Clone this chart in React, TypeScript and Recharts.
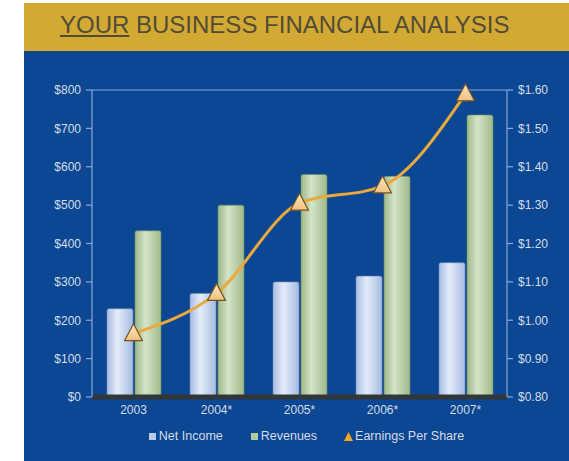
import React from 'react';
import { ComposedChart, Bar, Line, XAxis, YAxis, CartesianGrid, Legend } from 'recharts';

// Years on the x axis ("*" = projected)
const years = ['2003', '2004*', '2005*', '2006*', '2007*'];
// Net income, $ (left axis)
const netIncome = [230, 270, 300, 315, 350];
// Revenues, $ (left axis)
const revenues = [433, 500, 580, 575, 735];
// Earnings per share, $ (right axis)
const eps = [0.965, 1.07, 1.305, 1.35, 1.59];

const leftTicks = [0, 100, 200, 300, 400, 500, 600, 700, 800];
const rightTicks = [0.8, 0.9, 1.0, 1.1, 1.2, 1.3, 1.4, 1.5, 1.6];

const data = years.map((year, i) => ({
  year,
  netIncome: netIncome[i],
  revenues: revenues[i],
  eps: eps[i],
}));

const FONT = '"Liberation Sans", Arial, sans-serif';
const PANEL = '#0B4792';
const GRID = '#8DA6D8';
const TICK_TEXT = '#D6DCE8';
const COLORS = {
  netIncome: '#B7CAEC',
  revenues: '#B3CC9F',
  eps: '#E9A93C',
};

const Triangle = (props: any) => {
  const { cx, cy } = props;
  if (cx == null || cy == null) return null;
  return (
    <polygon
      points={`${cx},${cy - 10} ${cx - 9},${cy + 7} ${cx + 9},${cy + 7}`}
      fill="url(#triFill)"
      stroke="#7A5222"
      strokeWidth={1.2}
      strokeLinejoin="round"
    />
  );
};

const LegendContent = () => {
  const items = [
    { label: 'Net Income', color: COLORS.netIncome, kind: 'square' },
    { label: 'Revenues', color: COLORS.revenues, kind: 'square' },
    { label: 'Earnings Per Share', color: '#F2A81C', kind: 'triangle' },
  ];
  return (
    <div
      style={{
        display: 'flex',
        justifyContent: 'center',
        gap: 27,
        paddingLeft: 18,
        fontFamily: FONT,
        fontSize: 12.5,
        color: TICK_TEXT,
      }}
    >
      {items.map((it) => (
        <span key={it.label} style={{ display: 'inline-flex', alignItems: 'center' }}>
          <svg width={9} height={9} style={{ marginRight: 2 }}>
            {it.kind === 'square' ? (
              <rect x={1} y={1} width={7} height={7} fill={it.color} />
            ) : (
              <polygon points="4.5,0 9,9 0,9" fill={it.color} />
            )}
          </svg>
          {it.label}
        </span>
      ))}
    </div>
  );
};

export default function App() {
  return (
    <div style={{ position: 'absolute', left: 0, top: 0, width: 569, height: 461, background: '#fff', fontFamily: FONT }}>
      <div
        style={{
          position: 'absolute',
          left: 24,
          top: 3,
          width: 545,
          height: 48,
          background: '#D2A933',
        }}
      >
        <div style={{ position: 'absolute', left: 36, top: 8, fontSize: 24, color: '#524C36', whiteSpace: 'nowrap' }}>
          <span style={{ textDecoration: 'underline' }}>YOUR</span> BUSINESS FINANCIAL ANALYSIS
        </div>
      </div>
      <div style={{ position: 'absolute', left: 24, top: 51, width: 545, height: 410, background: PANEL }}>
        <ComposedChart
          width={545}
          height={410}
          data={data}
          margin={{ top: 39, right: 7, left: 8, bottom: 18 }}
          barCategoryGap={15}
          barGap={2}
        >
          <defs>
            <linearGradient id="blueBar" x1="0" y1="0" x2="1" y2="0">
              <stop offset="0%" stopColor="#A9BEE6" />
              <stop offset="40%" stopColor="#E3ECF9" />
              <stop offset="100%" stopColor="#A6BBE3" />
            </linearGradient>
            <linearGradient id="greenBar" x1="0" y1="0" x2="1" y2="0">
              <stop offset="0%" stopColor="#9DB98A" />
              <stop offset="40%" stopColor="#D5E4C8" />
              <stop offset="100%" stopColor="#9EB98A" />
            </linearGradient>
            <linearGradient id="triFill" x1="0" y1="0" x2="0" y2="1">
              <stop offset="0%" stopColor="#FBE7C4" />
              <stop offset="100%" stopColor="#EFC27E" />
            </linearGradient>
          </defs>
          <CartesianGrid horizontal vertical={false} stroke={GRID} strokeWidth={1.2} />
          <XAxis
            dataKey="year"
            height={32}
            axisLine={{ stroke: '#333638', strokeWidth: 5 }}
            tickLine={false}
            tick={{ fill: TICK_TEXT, fontSize: 12, fontFamily: FONT }}
            tickMargin={2}
          />
          <YAxis
            yAxisId="left"
            width={60}
            domain={[0, 800]}
            ticks={leftTicks}
            tickFormatter={(v) => `$${v}`}
            axisLine={{ stroke: GRID, strokeWidth: 1.2 }}
            tickLine={{ stroke: GRID, strokeWidth: 1.2 }}
            tickSize={6}
            tickMargin={5}
            tick={{ fill: TICK_TEXT, fontSize: 12, fontFamily: FONT }}
          />
          <YAxis
            yAxisId="right"
            orientation="right"
            width={55}
            domain={[0.8, 1.6]}
            ticks={rightTicks}
            tickFormatter={(v) => `$${Number(v).toFixed(2)}`}
            axisLine={{ stroke: GRID, strokeWidth: 1.2 }}
            tickLine={{ stroke: GRID, strokeWidth: 1.2 }}
            tickSize={6}
            tickMargin={5}
            tick={{ fill: TICK_TEXT, fontSize: 12, fontFamily: FONT }}
          />
          <Legend verticalAlign="bottom" content={<LegendContent />} />
          <Bar
            yAxisId="left"
            dataKey="netIncome"
            name="Net Income"
            fill="url(#blueBar)"
            stroke="#6F86B8"
            strokeWidth={0.6}
            radius={[2, 2, 0, 0]}
            isAnimationActive={false}
          />
          <Bar
            yAxisId="left"
            dataKey="revenues"
            name="Revenues"
            fill="url(#greenBar)"
            stroke="#6F8A5C"
            strokeWidth={0.6}
            radius={[2, 2, 0, 0]}
            isAnimationActive={false}
          />
          <Line
            yAxisId="right"
            type="monotone"
            dataKey="eps"
            name="Earnings Per Share"
            stroke={COLORS.eps}
            strokeWidth={3}
            dot={<Triangle />}
            activeDot={false}
            isAnimationActive={false}
          />
        </ComposedChart>
      </div>
    </div>
  );
}
